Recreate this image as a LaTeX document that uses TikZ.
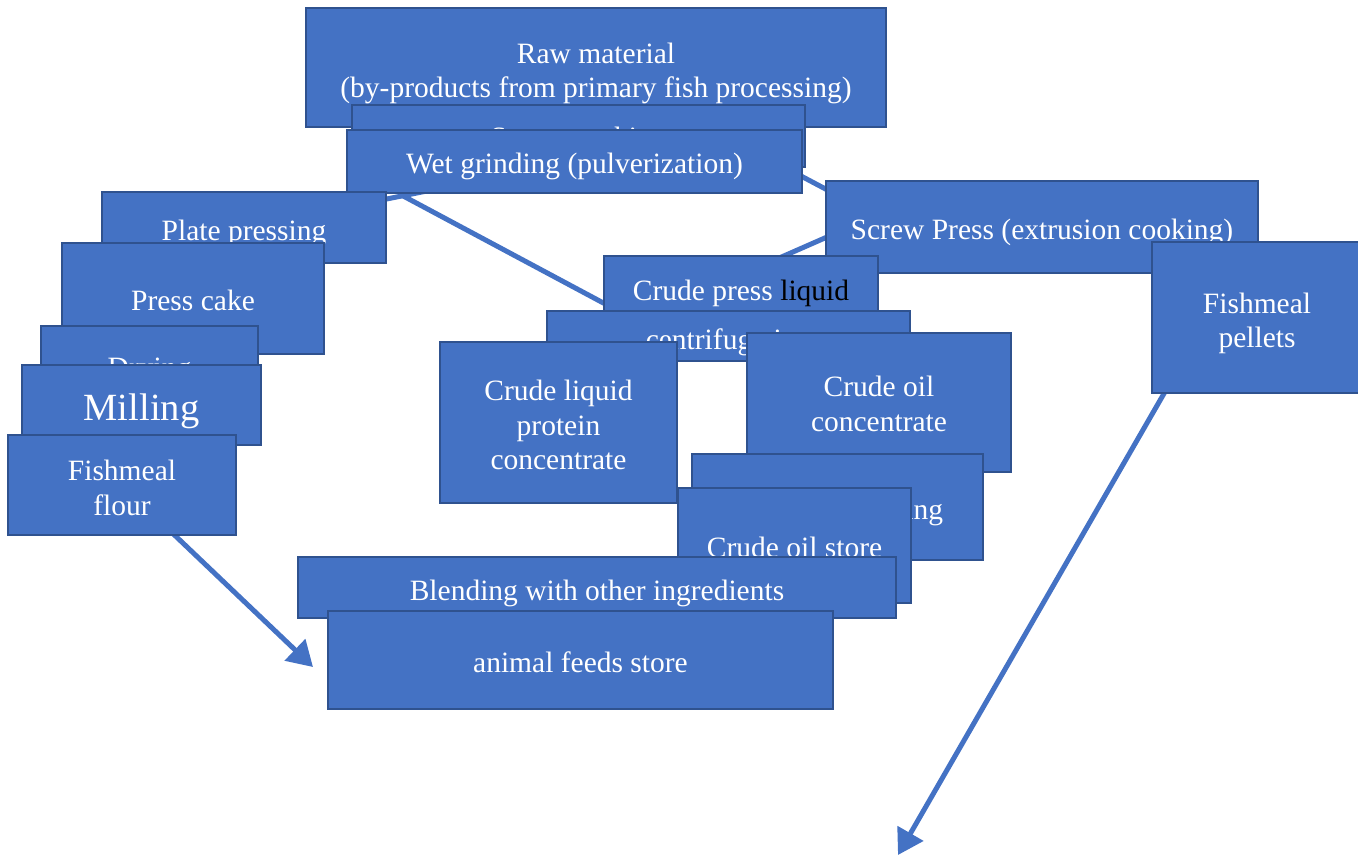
\documentclass[tikz,border=0pt]{standalone}
\usepackage{fontspec}
\setmainfont{Liberation Serif}
\usetikzlibrary{arrows.meta,calc}
\definecolor{boxfill}{HTML}{4472C4}
\definecolor{boxline}{HTML}{2F528F}
\pgfdeclarelayer{bg}
\pgfsetlayers{bg,main}
% centred lines of box text, lowered by the optional amount
\newcommand\boxtext[2][5pt]{%
  \raisebox{-#1}[\height][\depth]{\begin{tabular}{@{}c@{}}#2\end{tabular}}}
\tikzset{
  box/.style={draw=boxline, line width=2pt, fill=boxfill, text=white,
    inner sep=0pt, font=\fontsize{29.5}{34.5}\selectfont},
  link/.style={draw=boxfill, line width=5pt},
  flow/.style={link, -{Triangle[length=25pt, width=29pt]}},
}
\begin{document}
\begin{tikzpicture}[x=1pt, y=-1pt]
\useasboundingbox (0,0) rectangle (1358,856);

% upper stages
\node[box, minimum width=580pt, minimum height=119pt] (raw) at (596,67.5)
  {\boxtext[6pt]{Raw material\\(by-products from primary fish processing)}};
\node[box, minimum width=453pt, minimum height=62pt] (steam) at (578.5,136) {\boxtext{Steam cooking}};
\node[box, minimum width=455pt, minimum height=63pt] (wet) at (574.5,161.5) {\boxtext{Wet grinding (pulverization)}};
\node[box, minimum width=432pt, minimum height=92pt] (screw) at (1042,227) {\boxtext[6pt]{Screw Press (extrusion cooking)}};
\node[box, minimum width=210pt, minimum height=151pt] (pellets) at (1257,317.5) {\boxtext[6pt]{Fishmeal\\pellets}};

% left branch: solids
\node[box, minimum width=284pt, minimum height=71pt] (plate) at (244,227.5) {\boxtext[6pt]{Plate pressing}};
\node[box, minimum width=262pt, minimum height=111pt] (cake) at (193,298.5) {\boxtext[5pt]{Press cake}};
\node[box, minimum width=217pt, minimum height=80pt] (drying) at (149.5,366) {\boxtext{Drying}};
\node[box, minimum width=239pt, minimum height=80pt, font=\fontsize{38.5}{44}\selectfont] (milling) at (141.5,405) {\boxtext[7pt]{Milling}};
\node[box, minimum width=228pt, minimum height=100pt] (flour) at (122,485) {\boxtext[6pt]{Fishmeal\\flour}};

% middle branch: liquids
\node[box, minimum width=274pt, minimum height=55pt] (press) at (741,283.5)
  {\boxtext[10pt]{Crude press \textcolor{black}{liquid}}};
\node[box, minimum width=363pt, minimum height=50pt] (centri) at (728.5,336) {\boxtext[7pt]{centrifugation}};
\node[box, minimum width=237pt, minimum height=161pt] (protein) at (558.5,422.5)
  {\boxtext[6pt]{Crude liquid\\protein\\concentrate}};
\node[box, minimum width=264pt, minimum height=139pt] (oilconc) at (879,402.5) {\boxtext[4.5pt]{Crude oil\\concentrate}};
\node[box, minimum width=291pt, minimum height=106pt] (refine) at (837.5,507) {\boxtext[6pt]{Crude oil refining}};
\node[box, minimum width=233pt, minimum height=115pt] (store) at (794.5,545.5) {\boxtext[5pt]{Crude oil store}};
\node[box, minimum width=598pt, minimum height=61pt] (blend) at (597,587.5) {\boxtext[6pt]{Blending with other ingredients}};
\node[box, minimum width=505pt, minimum height=98pt] (feeds) at (580.5,660) {\boxtext[6pt]{animal feeds store}};

% free arrow ends
\coordinate (flourtip) at (313,667);
\coordinate (pellettip) at (898,855);

% connectors, kept behind the boxes
\begin{pgfonlayer}{bg}
  \draw[link] (plate.center) -- (wet.center);
  \draw[link] (raw.center) -- ($(screw.north west)+(44,32)$);
  \draw[link] ($(wet.south west)!0.117!(wet.south east)$) -- ($(press.south west)+(6,-6)$);
  \draw[link] ($(screw.west)+(34,-4)$) -- ($(press.north east)+(-118,11)$);
  \draw[flow] (flour.center) -- (flourtip);
  \draw[flow] ($(pellets.south west)+(30,-30)$) -- (pellettip);
\end{pgfonlayer}
\end{tikzpicture}
\end{document}
